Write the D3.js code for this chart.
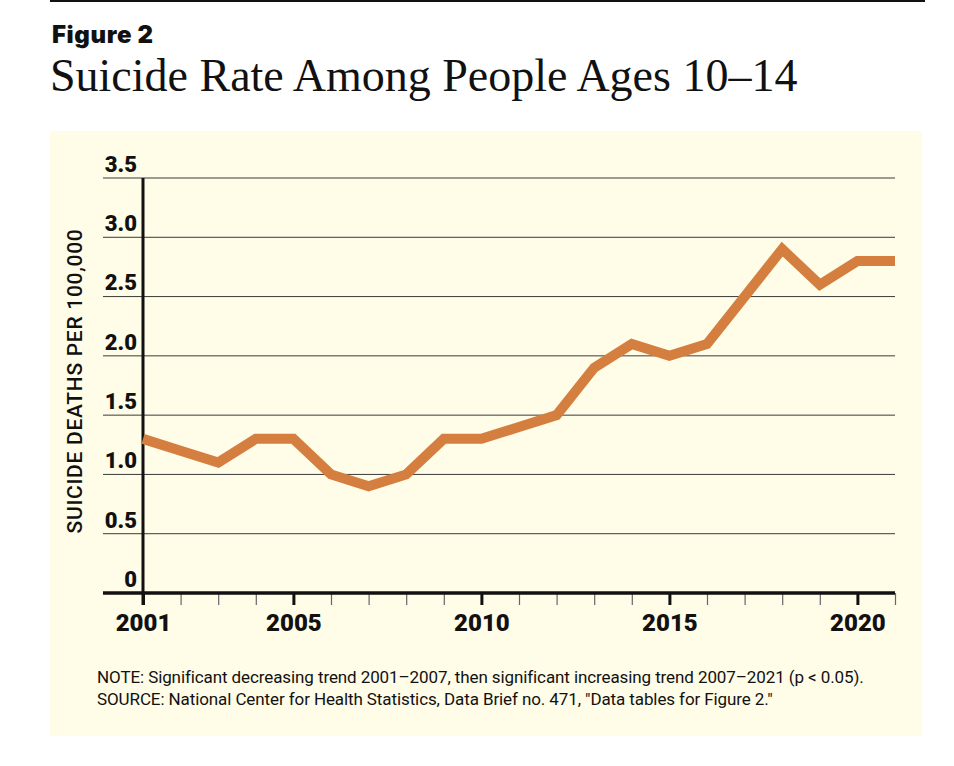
<!DOCTYPE html>
<html>
<head>
<meta charset="utf-8">
<script src="https://cdn.jsdelivr.net/npm/d3@7"></script>
<style>
  body { margin: 0; background: #ffffff; }
  svg { display: block; }
  .tick text { font-family: Roboto, "Liberation Sans", sans-serif; font-weight: 900; fill: #111; }
</style>
</head>
<body>
<div class="chart"></div>
<script>
// Figure 2: suicide rate among people ages 10-14

var years = [2001, 2002, 2003, 2004, 2005, 2006, 2007, 2008, 2009, 2010, 2011,
             2012, 2013, 2014, 2015, 2016, 2017, 2018, 2019, 2020, 2021];
var rates = [1.3, 1.2, 1.1, 1.3, 1.3, 1.0, 0.9, 1.0, 1.3, 1.3, 1.4,
             1.5, 1.9, 2.1, 2.0, 2.1, 2.5, 2.9, 2.6, 2.8, 2.8];
var yTicks = [0, 0.5, 1.0, 1.5, 2.0, 2.5, 3.0, 3.5];
var yTickLabels = ["0", "0.5", "1.0", "1.5", "2.0", "2.5", "3.0", "3.5"];
var xLabelYears = [2001, 2005, 2010, 2015, 2020];

var svgWidth = 954;
var svgHeight = 766;

var margin = { top: 178, left: 143 };
var width = 752;
var height = 415;

var svg = d3.select(".chart")
    .append("svg")
    .attr("width", svgWidth)
    .attr("height", svgHeight);

// top rule
svg.append("line")
    .attr("x1", 50).attr("x2", 925)
    .attr("y1", 1).attr("y2", 1)
    .attr("stroke", "#111")
    .attr("stroke-width", 2);

svg.append("text")
    .attr("x", 52)
    .attr("y", 43)
    .style("font-family", "Inter, Roboto, sans-serif")
    .style("font-weight", 900)
    .style("font-size", "24px")
    .style("letter-spacing", "0.6px")
    .attr("fill", "#111")
    .text("Figure 2");

svg.append("text")
    .attr("x", 50)
    .attr("y", 91)
    .style("font-family", "'Liberation Serif', 'DejaVu Serif', serif")
    .style("font-size", "46px")
    .attr("fill", "#111")
    .text("Suicide Rate Among People Ages 10\u201314");

// cream panel
svg.append("rect")
    .attr("x", 50).attr("y", 131)
    .attr("width", 872).attr("height", 605)
    .attr("fill", "#fffce8");

var chart = svg.append("g")
    .attr("transform", "translate(" + margin.left + "," + margin.top + ")");

var xScale = d3.scaleLinear()
    .domain([2001, 2021])
    .range([0, width]);

var yScale = d3.scaleLinear()
    .domain([0, 3.5])
    .range([height, 0]);

// gridlines, reaching under the tick labels
chart.append("g")
    .selectAll("line")
    .data(yTicks.slice(1))
    .enter()
    .append("line")
    .attr("x1", -40)
    .attr("x2", width)
    .attr("y1", function(d) { return yScale(d); })
    .attr("y2", function(d) { return yScale(d); })
    .attr("stroke", "#3a3a3a")
    .attr("stroke-width", 1);

// y tick labels sit just above their gridline
var leftAxis = d3.axisLeft(yScale)
    .tickValues(yTicks)
    .tickSize(0)
    .tickPadding(6)
    .tickFormat(function(d, i) { return yTickLabels[i]; });

chart.append("g")
    .call(leftAxis)
    .call(function(g) { g.select(".domain").remove(); })
    .selectAll("text")
    .attr("dy", "-0.3em")
    .style("font-size", "22px");

// minor year ticks
var minorAxis = d3.axisBottom(xScale)
    .tickValues(years)
    .tickSize(12)
    .tickFormat("");

chart.append("g")
    .attr("transform", "translate(0," + height + ")")
    .call(minorAxis)
    .call(function(g) {
        g.select(".domain").remove();
        g.selectAll("line").attr("stroke", "#666").attr("stroke-width", 1.2);
    });

// major ticks with labels
var bottomAxis = d3.axisBottom(xScale)
    .tickValues(xLabelYears)
    .tickSize(12)
    .tickPadding(9)
    .tickFormat(d3.format("d"));

chart.append("g")
    .attr("transform", "translate(0," + height + ")")
    .call(bottomAxis)
    .call(function(g) {
        g.select(".domain").remove();
        g.selectAll("line").attr("stroke", "#111").attr("stroke-width", 3);
        g.selectAll("text").style("font-size", "24px");
    });

// axis lines
chart.append("line")
    .attr("x1", -40).attr("x2", width)
    .attr("y1", height).attr("y2", height)
    .attr("stroke", "#111")
    .attr("stroke-width", 3.5);

chart.append("line")
    .attr("x1", 0).attr("x2", 0)
    .attr("y1", 0).attr("y2", height + 12)
    .attr("stroke", "#111")
    .attr("stroke-width", 3);

var line = d3.line()
    .x(function(d, i) { return xScale(years[i]); })
    .y(function(d) { return yScale(d); });

chart.append("path")
    .datum(rates)
    .attr("d", line)
    .attr("fill", "none")
    .attr("stroke", "#d47f3f")
    .attr("stroke-width", 10)
    .attr("stroke-linejoin", "miter");

svg.append("text")
    .attr("transform", "translate(82,381) rotate(-90)")
    .attr("text-anchor", "middle")
    .style("font-family", "Roboto, sans-serif")
    .style("font-weight", 500)
    .style("font-size", "21px")
    .style("letter-spacing", "0.7px")
    .attr("fill", "#111")
    .text("SUICIDE DEATHS PER 100,000");

var notes = [
    "NOTE: Significant decreasing trend 2001\u20132007, then significant increasing trend 2007\u20132021 (p < 0.05).",
    "SOURCE: National Center for Health Statistics, Data Brief no. 471, \"Data tables for Figure 2.\""
];

svg.append("g")
    .selectAll("text")
    .data(notes)
    .enter()
    .append("text")
    .attr("x", 97)
    .attr("y", function(d, i) { return 683 + i * 22; })
    .style("font-family", "Roboto, sans-serif")
    .style("font-size", "17px")
    .style("letter-spacing", "-0.1px")
    .attr("fill", "#111")
    .text(function(d) { return d; });
</script>
</body>
</html>
